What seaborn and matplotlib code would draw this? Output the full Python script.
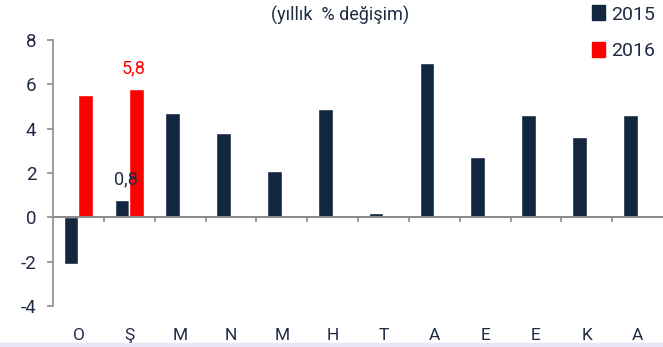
import matplotlib
matplotlib.use("Agg")
import matplotlib.pyplot as plt
import numpy as np
import pandas as pd
import seaborn as sns
from matplotlib.patches import Rectangle

months = ["O", "Ş", "M", "N", "M", "H", "T", "A", "E", "E", "K", "A"]
values_2015 = [-2.1, 0.8, 4.7, 3.8, 2.1, 4.9, 0.2, 6.95, 2.7, 4.6, 3.6, 4.6]
values_2016 = [5.5, 5.8, None, None, None, None, None, None, None, None, None, None]
years = ["2015", "2016"]
title = "(yıllık  % değişim)"

navy = "#13263f"
red = "#ff0000"
text_color = "#1f2b45"
axis_gray = "#8c8c8c"

frame = pd.DataFrame({
    "pos": list(range(len(months))) * 2,
    "value": values_2015 + values_2016,
    "year": [years[0]] * len(months) + [years[1]] * len(months),
})
frame["value"] = frame["value"].astype(float)

sns.set_style("white")
plt.rcParams["font.family"] = ["Roboto", "DejaVu Sans"]

fig = plt.figure(figsize=(6.63, 3.47), dpi=100)
ax = fig.add_axes([0.08, 0.118, 0.92, 0.767])

sns.barplot(
    data=frame, x="pos", y="value", hue="year", hue_order=years,
    palette={"2015": navy, "2016": red}, width=0.58, gap=0,
    saturation=1, errorbar=None, ax=ax, legend=False,
)

ax.set_xlim(-0.5, len(months) - 0.5)
ax.set_ylim(-4, 8)
ax.set_yticks(range(-4, 9, 2))
ax.set_yticklabels([str(v) for v in range(-4, 9, 2)])
ax.set_xticks(range(len(months)))
ax.set_xticklabels(months)
ax.set_xlabel("")
ax.set_ylabel("")

for side in ["top", "right", "bottom"]:
    ax.spines[side].set_visible(False)
ax.spines["left"].set_color(axis_gray)
ax.spines["left"].set_linewidth(1.2)
ax.tick_params(axis="y", left=True, length=4, width=1.2, color=axis_gray,
               labelsize=13.5, labelcolor=text_color, pad=8)
ax.tick_params(axis="x", bottom=False, length=0, labelsize=12.5,
               labelcolor=text_color, pad=16)

# zero line with category boundary ticks
ax.axhline(0, color=axis_gray, linewidth=1.5, zorder=3)
ax.vlines(np.arange(0.5, len(months) - 0.5), -0.2, 0, color=axis_gray,
          linewidth=1.2, zorder=3)

# value labels
ax.text(1 + 0.08, values_2016[1] + 0.5, "5,8", color=red, ha="center",
        va="bottom", fontsize=13)
ax.text(1 - 0.06, values_2015[1] + 0.5, "0,8", color=text_color, ha="center",
        va="bottom", fontsize=13)

fig.text(0.513, 0.955, title, ha="center", va="center", fontsize=13,
         color=text_color)

handles = [Rectangle((0, 0), 1, 1, color=navy), Rectangle((0, 0), 1, 1, color=red)]
fig.legend(handles, years, loc="upper right", bbox_to_anchor=(1.015, 1.035),
           frameon=False, fontsize=14, labelcolor=text_color, handlelength=0.65,
           handleheight=0.8, handletextpad=0.35, labelspacing=0.95)

fig.patches.append(Rectangle((0, 0), 1, 0.012, transform=fig.transFigure,
                             color="#e6e6f7", zorder=0))

fig.savefig("out.png", dpi=100)
